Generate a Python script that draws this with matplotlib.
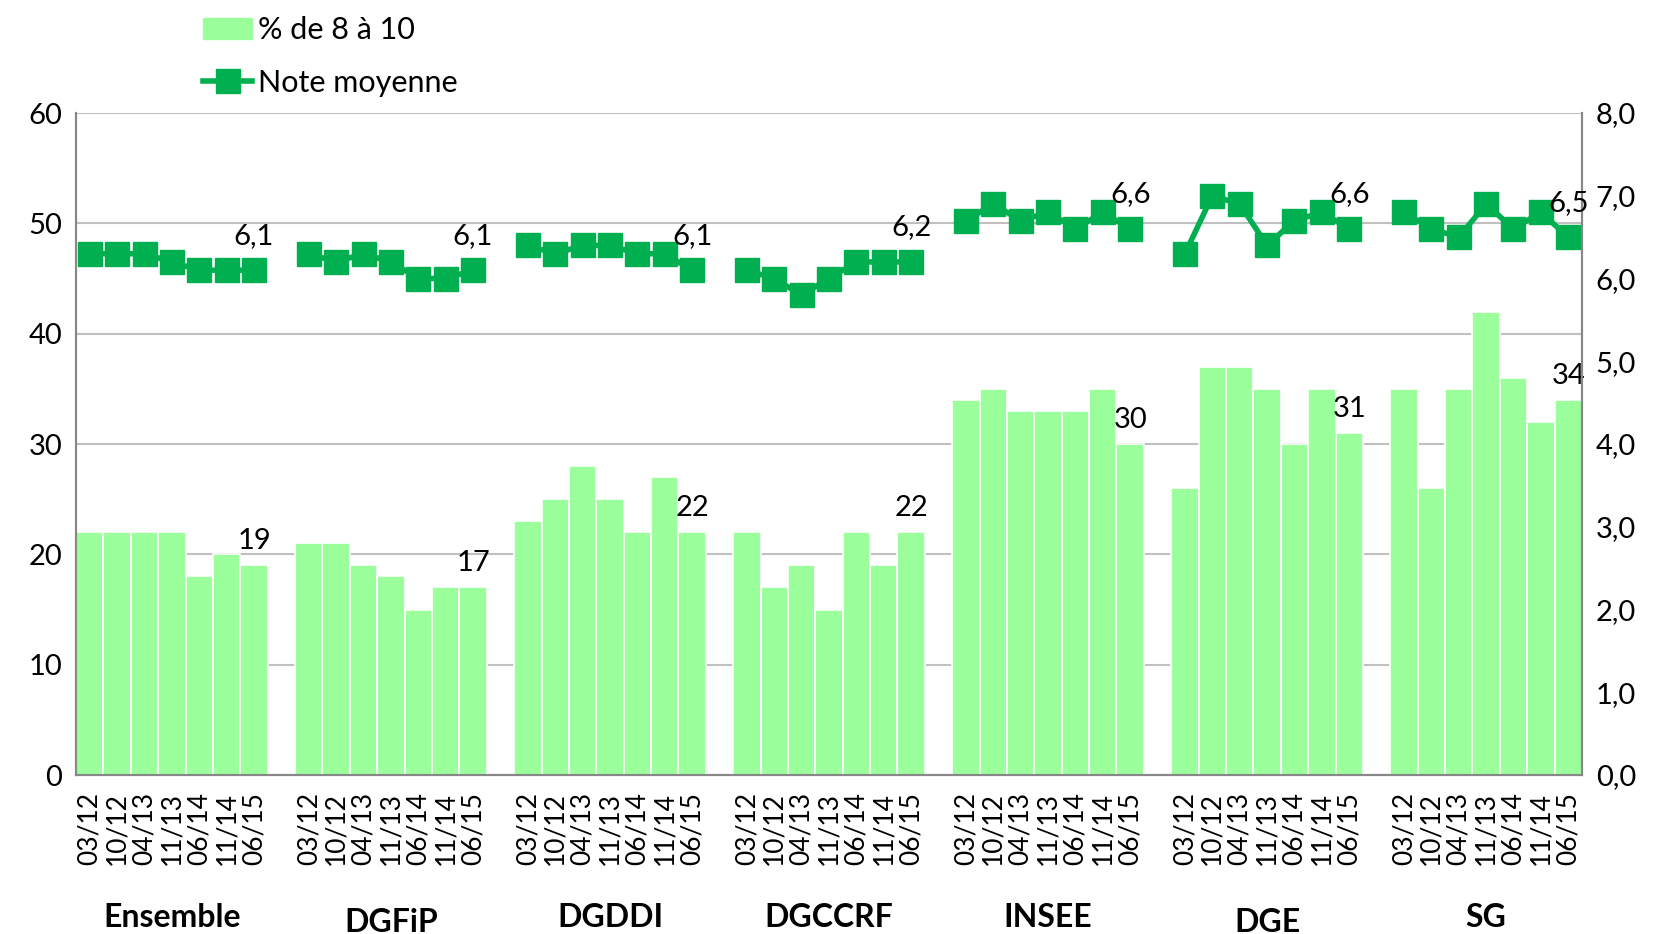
import numpy as np
import matplotlib.pyplot as plt
from matplotlib.patches import Patch
from matplotlib.lines import Line2D
from matplotlib.ticker import FuncFormatter

plt.rcParams['font.family'] = ['Lato', 'DejaVu Sans']

groups = ['Ensemble', 'DGFiP', 'DGDDI', 'DGCCRF', 'INSEE', 'DGE', 'SG']
periods = ['03/12', '10/12', '04/13', '11/13', '06/14', '11/14', '06/15']

# % de 8 a 10 (left axis)
pct = [
    [22, 22, 22, 22, 18, 20, 19],
    [21, 21, 19, 18, 15, 17, 17],
    [23, 25, 28, 25, 22, 27, 22],
    [22, 17, 19, 15, 22, 19, 22],
    [34, 35, 33, 33, 33, 35, 30],
    [26, 37, 37, 35, 30, 35, 31],
    [35, 26, 35, 42, 36, 32, 34],
]
# note moyenne (right axis)
note = [
    [6.3, 6.3, 6.3, 6.2, 6.1, 6.1, 6.1],
    [6.3, 6.2, 6.3, 6.2, 6.0, 6.0, 6.1],
    [6.4, 6.3, 6.4, 6.4, 6.3, 6.3, 6.1],
    [6.1, 6.0, 5.8, 6.0, 6.2, 6.2, 6.2],
    [6.7, 6.9, 6.7, 6.8, 6.6, 6.8, 6.6],
    [6.3, 7.0, 6.9, 6.4, 6.7, 6.8, 6.6],
    [6.8, 6.6, 6.5, 6.9, 6.6, 6.8, 6.5],
]

bar_col = '#9BFF9B'
line_col = '#00B050'

fig = plt.figure(figsize=(16.57, 9.34), dpi=100)
ax = fig.add_axes([0.0459, 0.1702, 0.9088, 0.7088])
ax2 = ax.twinx()

n = len(periods)
xt, xl = [], []
for g, name in enumerate(groups):
    x = np.arange(n) + g * (n + 1)
    ax.bar(x, pct[g], width=1.0, color=bar_col, edgecolor='white', linewidth=1.2, zorder=2)
    ax2.plot(x, note[g], color=line_col, lw=4, marker='s', ms=17, zorder=3)
    ax.text(x[-1], pct[g][-1] + 1.0, str(pct[g][-1]), ha='center', va='bottom', fontsize=21)
    ax2.text(x[-1], note[g][-1] + 0.26, ('%.1f' % note[g][-1]).replace('.', ','),
             ha='center', va='bottom', fontsize=21)
    dy = -0.222 if name in ('DGFiP', 'DGE') else -0.215
    ax.text(x[3], dy, name, transform=ax.get_xaxis_transform(), ha='center', va='center',
            fontsize=23, fontweight='bold')
    xt += list(x)
    xl += periods

ax.set_xlim(-0.5, len(groups) * (n + 1) - 1.5)
ax.set_ylim(0, 60)
ax.set_yticks(range(0, 61, 10))
ax2.set_ylim(0, 8)
ax2.set_yticks(range(0, 9))
ax2.yaxis.set_major_formatter(FuncFormatter(lambda v, p: ('%.1f' % v).replace('.', ',')))
ax.set_xticks(xt)
ax.set_xticklabels(xl, rotation=90, fontsize=19)
ax.tick_params(axis='x', length=0, pad=12)
ax.tick_params(axis='y', length=0, labelsize=21, pad=10)
ax2.tick_params(axis='y', length=0, labelsize=21, pad=10)

ax.grid(axis='y', color='#C0C0C0', lw=1.5, zorder=0)
ax.set_axisbelow(True)
for a in (ax, ax2):
    a.spines['top'].set_visible(False)
    for s in ('left', 'right', 'bottom'):
        a.spines[s].set_color('#888888')
        a.spines[s].set_linewidth(1.5)

handles = [Patch(color=bar_col),
           Line2D([], [], color=line_col, lw=4, marker='s', ms=17)]
fig.legend(handles, ['% de 8 à 10', 'Note moyenne'], loc='upper left',
           bbox_to_anchor=(0.106, 1.012), frameon=False, fontsize=22,
           handlelength=1.6, handletextpad=0.2, labelspacing=0.8)

fig.savefig('out.png', dpi=100)
